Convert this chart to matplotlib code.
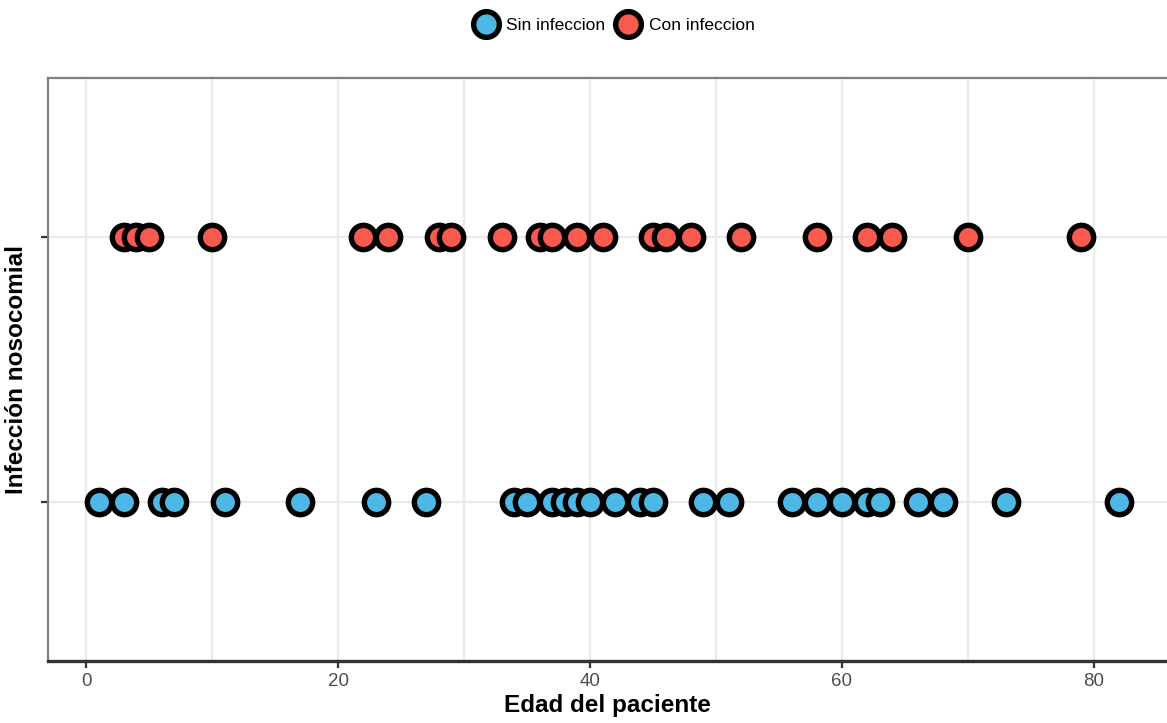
import matplotlib.pyplot as plt
from matplotlib.lines import Line2D

plt.rcParams['font.family'] = ['Liberation Sans', 'DejaVu Sans']

# edades por grupo
edad_sin = [1, 3, 6, 7, 11, 17, 23, 27, 34, 35, 37, 38, 39, 40, 42, 44, 45,
            49, 51, 56, 58, 60, 62, 63, 66, 68, 73, 82]
edad_con = [3, 4, 5, 10, 22, 24, 28, 29, 33, 36, 37, 39, 41, 45, 46, 48, 52,
            58, 62, 64, 70, 79]
grupos = ["Sin infeccion", "Con infeccion"]
colores = ["#4DB8E4", "#F95A50"]
x_ticks = [0, 20, 40, 60, 80]

W, H = 1167, 723
fig = plt.figure(figsize=(W / 100, H / 100), dpi=100)
ax = fig.add_axes([48 / W, 62 / H, 1 - 48 / W, (661 - 78) / H])

ms = 17.5
mew = 3.9
for i, (edades, col) in enumerate(zip([edad_sin, edad_con], colores)):
    ax.plot(edades, [i + 1] * len(edades), 'o', ms=ms, mfc=col, mec='black',
            mew=mew, zorder=3, clip_on=False)

ax.set_xlim(-3.02, 85.8)
ax.set_ylim(0.4, 2.6)
ax.set_xticks(x_ticks)
ax.set_xticks([10, 30, 50, 70], minor=True)
ax.set_yticks([1, 2])
ax.set_yticklabels(["", ""])
ax.tick_params(axis='x', which='minor', length=0)
ax.tick_params(axis='both', which='major', length=5, width=1.6, color='#333333',
               labelsize=13.5, labelcolor='#4D4D4D')
ax.grid(True, which='both', color='#EBEBEB', lw=1.6)
ax.set_axisbelow(True)

ax.spines['right'].set_visible(False)
ax.spines['bottom'].set_color('#333333')
ax.spines['bottom'].set_linewidth(2.4)
for s in ['top', 'left']:
    ax.spines[s].set_color('#7F7F7F')
    ax.spines[s].set_linewidth(1.6)

ax.set_xlabel("Edad del paciente", fontsize=17.5, fontweight='bold', labelpad=3)
ax.set_ylabel("Infección nosocomial", fontsize=17.5, fontweight='bold', labelpad=6)

handles = [Line2D([], [], ls='none', marker='o', ms=ms + 1, mfc=c, mec='black', mew=mew)
           for c in colores]
fig.legend(handles, grupos, loc='center', bbox_to_anchor=(615 / W, 1 - 25 / H),
           ncol=2, frameon=False, fontsize=12.5, handletextpad=0.6,
           columnspacing=0.7, handlelength=1.2)

fig.savefig("out.png", dpi=100)
